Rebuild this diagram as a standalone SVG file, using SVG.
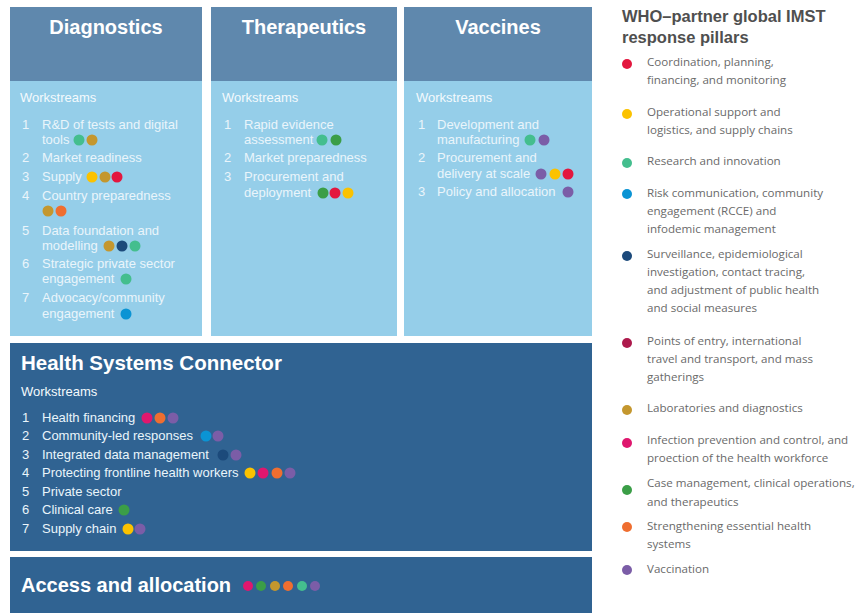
<svg xmlns="http://www.w3.org/2000/svg" width="866" height="613" viewBox="0 0 866 613">
<defs>
<style>
.hdr{fill:#5f88ad}
.body{fill:#95cee9}
.dark{fill:#306392}
.title{font-family:"Liberation Sans",Arial,sans-serif;font-weight:bold;font-size:20px;fill:#ffffff}
.ws{font-family:"Liberation Sans",Arial,sans-serif;font-size:13px;fill:#f4fafd}
.it{font-family:"Liberation Sans",Arial,sans-serif;font-size:13px;fill:#eaf5fb}
.lt{font-family:"Liberation Sans",Arial,sans-serif;font-weight:bold;font-size:16.5px;fill:#4f4f4f}
.lg{font-family:"Open Sans","Noto Sans",sans-serif;font-size:11.6px;fill:#6a6a6a}
.red{fill:#e3173e}.yel{fill:#fbc200}.tea{fill:#44be8e}.blu{fill:#0b94d4}.nav{fill:#1c4a7b}
.cri{fill:#ad1a4c}.gol{fill:#c4972e}.pin{fill:#df176e}.grn{fill:#3b9e47}.ora{fill:#ef6e30}.pur{fill:#7b5da7}
</style>
</defs>
<rect width="866" height="613" fill="#ffffff"/>

<g id="diagnostics">
<rect class="hdr" x="10" y="7" width="192" height="74"/>
<rect class="body" x="10" y="81" width="192" height="255"/>
<text class="title" x="106" y="34" text-anchor="middle">Diagnostics</text>
<text class="ws" x="20" y="102">Workstreams</text>
<text class="it" x="22" y="129">1</text><text class="it" x="42" y="129">R&amp;D of tests and digital</text>
<text class="it" x="42" y="144">tools</text>
<circle class="tea" cx="79" cy="140" r="5.5"/><circle class="gol" cx="92" cy="140" r="5.5"/>
<text class="it" x="22" y="162">2</text><text class="it" x="42" y="162">Market readiness</text>
<text class="it" x="22" y="181">3</text><text class="it" x="42" y="181">Supply</text>
<circle class="yel" cx="92" cy="177" r="5.5"/><circle class="gol" cx="105" cy="177" r="5.5"/><circle class="red" cx="117" cy="177" r="5.5"/>
<text class="it" x="22" y="200">4</text><text class="it" x="42" y="200">Country preparedness</text>
<circle class="gol" cx="48" cy="211" r="5.5"/><circle class="ora" cx="61" cy="211" r="5.5"/>
<text class="it" x="22" y="235">5</text><text class="it" x="42" y="235">Data foundation and</text>
<text class="it" x="42" y="250">modelling</text>
<circle class="gol" cx="109" cy="246" r="5.5"/><circle class="nav" cx="122" cy="246" r="5.5"/><circle class="tea" cx="135" cy="246" r="5.5"/>
<text class="it" x="22" y="268">6</text><text class="it" x="42" y="268">Strategic private sector</text>
<text class="it" x="42" y="283">engagement</text>
<circle class="tea" cx="126" cy="279" r="5.5"/>
<text class="it" x="22" y="302">7</text><text class="it" x="42" y="302">Advocacy/community</text>
<text class="it" x="42" y="318">engagement</text>
<circle class="blu" cx="126" cy="314" r="5.5"/>
</g>

<g id="therapeutics">
<rect class="hdr" x="211" y="7" width="186" height="74"/>
<rect class="body" x="211" y="81" width="186" height="255"/>
<text class="title" x="304" y="34" text-anchor="middle">Therapeutics</text>
<text class="ws" x="222" y="102">Workstreams</text>
<text class="it" x="224" y="129">1</text><text class="it" x="244" y="129">Rapid evidence</text>
<text class="it" x="244" y="144">assessment</text>
<circle class="tea" cx="322" cy="140" r="5.5"/><circle class="grn" cx="336" cy="140" r="5.5"/>
<text class="it" x="224" y="162">2</text><text class="it" x="244" y="162">Market preparedness</text>
<text class="it" x="224" y="181">3</text><text class="it" x="244" y="181">Procurement and</text>
<text class="it" x="244" y="197">deployment</text>
<circle class="grn" cx="323" cy="193" r="5.5"/><circle class="red" cx="335" cy="193" r="5.5"/><circle class="yel" cx="348" cy="193" r="5.5"/>
</g>

<g id="vaccines">
<rect class="hdr" x="404" y="7" width="188" height="74"/>
<rect class="body" x="404" y="81" width="188" height="255"/>
<text class="title" x="498" y="34" text-anchor="middle">Vaccines</text>
<text class="ws" x="416" y="102">Workstreams</text>
<text class="it" x="418" y="129">1</text><text class="it" x="437" y="129">Development and</text>
<text class="it" x="437" y="144">manufacturing</text>
<circle class="tea" cx="530" cy="140" r="5.5"/><circle class="pur" cx="544" cy="140" r="5.5"/>
<text class="it" x="418" y="162">2</text><text class="it" x="437" y="162">Procurement and</text>
<text class="it" x="437" y="178">delivery at scale</text>
<circle class="pur" cx="541" cy="174" r="5.5"/><circle class="yel" cx="555" cy="174" r="5.5"/><circle class="red" cx="568" cy="174" r="5.5"/>
<text class="it" x="418" y="196">3</text><text class="it" x="437" y="196">Policy and allocation</text>
<circle class="pur" cx="568" cy="192" r="5.5"/>
</g>

<g id="health-systems-connector">
<rect class="dark" x="10" y="343" width="582" height="208"/>
<text class="title" x="21" y="370" style="font-size:20.5px">Health Systems Connector</text>
<text class="ws" x="21" y="396">Workstreams</text>
<text class="it" x="22" y="422">1</text><text class="it" x="42" y="422">Health financing</text>
<circle class="pin" cx="147" cy="418" r="5.5"/><circle class="ora" cx="160" cy="418" r="5.5"/><circle class="pur" cx="173" cy="418" r="5.5"/>
<text class="it" x="22" y="440">2</text><text class="it" x="42" y="440">Community-led responses</text>
<circle class="blu" cx="206" cy="436" r="5.5"/><circle class="pur" cx="218" cy="436" r="5.5"/>
<text class="it" x="22" y="459">3</text><text class="it" x="42" y="459">Integrated data management</text>
<circle class="nav" cx="223" cy="455" r="5.5"/><circle class="pur" cx="236" cy="455" r="5.5"/>
<text class="it" x="22" y="477">4</text><text class="it" x="42" y="477">Protecting frontline health workers</text>
<circle class="yel" cx="250" cy="473" r="5.5"/><circle class="pin" cx="263" cy="473" r="5.5"/><circle class="ora" cx="277" cy="473" r="5.5"/><circle class="pur" cx="290" cy="473" r="5.5"/>
<text class="it" x="22" y="496">5</text><text class="it" x="42" y="496">Private sector</text>
<text class="it" x="22" y="514">6</text><text class="it" x="42" y="514">Clinical care</text>
<circle class="grn" cx="124" cy="510" r="5.5"/>
<text class="it" x="22" y="533">7</text><text class="it" x="42" y="533">Supply chain</text>
<circle class="yel" cx="128" cy="529" r="5.5"/><circle class="pur" cx="140" cy="529" r="5.5"/>
</g>

<g id="access-and-allocation">
<rect class="dark" x="10" y="557" width="582" height="56"/>
<text class="title" x="21" y="592">Access and allocation</text>
<circle class="pin" cx="248" cy="586" r="5"/><circle class="grn" cx="261" cy="586" r="5"/><circle class="gol" cx="275" cy="586" r="5"/>
<circle class="ora" cx="288" cy="586" r="5"/><circle class="tea" cx="302" cy="586" r="5"/><circle class="pur" cx="315" cy="586" r="5"/>
</g>

<g id="legend">
<text class="lt" x="622" y="22">WHO–partner global IMST</text>
<text class="lt" x="622" y="43">response pillars</text>
<circle class="red" cx="627" cy="64" r="5"/>
<text class="lg" x="647" y="66">Coordination, planning,</text>
<text class="lg" x="647" y="84">financing,  and monitoring</text>
<circle class="yel" cx="627" cy="114" r="5"/>
<text class="lg" x="647" y="116">Operational support and</text>
<text class="lg" x="647" y="134">logistics, and supply chains</text>
<circle class="tea" cx="627" cy="163" r="5"/>
<text class="lg" x="647" y="165">Research and innovation</text>
<circle class="blu" cx="627" cy="194" r="5"/>
<text class="lg" x="647" y="197">Risk communication, community</text>
<text class="lg" x="647" y="215">engagement (RCCE) and</text>
<text class="lg" x="647" y="233">infodemic management</text>
<circle class="nav" cx="627" cy="256" r="5"/>
<text class="lg" x="647" y="258">Surveillance, epidemiological</text>
<text class="lg" x="647" y="276">investigation, contact tracing,</text>
<text class="lg" x="647" y="294">and adjustment of public health</text>
<text class="lg" x="647" y="312">and social measures</text>
<circle class="cri" cx="627" cy="343" r="5"/>
<text class="lg" x="647" y="345">Points of entry, international</text>
<text class="lg" x="647" y="363">travel and transport, and mass</text>
<text class="lg" x="647" y="381">gatherings</text>
<circle class="gol" cx="627" cy="410" r="5"/>
<text class="lg" x="647" y="412">Laboratories and diagnostics</text>
<circle class="pin" cx="627" cy="443" r="5"/>
<text class="lg" x="647" y="444">Infection prevention and control, and</text>
<text class="lg" x="647" y="462">proection of the health workforce</text>
<circle class="grn" cx="627" cy="490" r="5"/>
<text class="lg" x="647" y="487">Case management, clinical operations,</text>
<text class="lg" x="647" y="506">and therapeutics</text>
<circle class="ora" cx="627" cy="527" r="5"/>
<text class="lg" x="647" y="530">Strengthening essential health</text>
<text class="lg" x="647" y="548">systems</text>
<circle class="pur" cx="627" cy="570" r="5"/>
<text class="lg" x="647" y="573">Vaccination</text>
</g>
</svg>
